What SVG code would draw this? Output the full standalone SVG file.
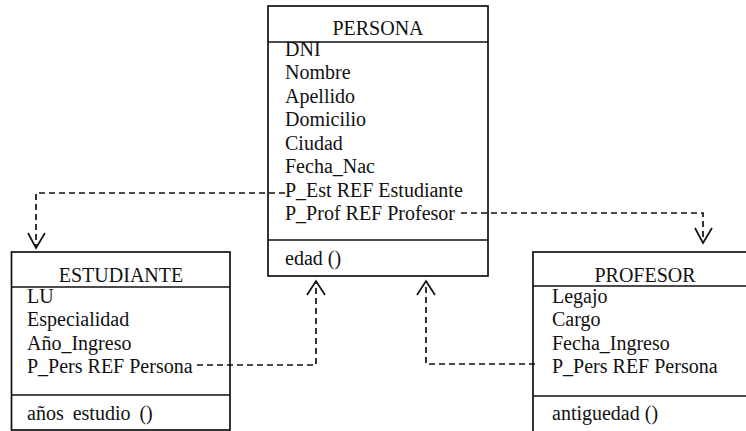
<svg xmlns="http://www.w3.org/2000/svg" width="746" height="431" viewBox="0 0 746 431">
  <style>
    .box { fill: #fff; stroke: #111; stroke-width: 1.7; }
    .sep { stroke: #111; stroke-width: 1.7; }
    .t { font-family: 'Liberation Serif', 'DejaVu Serif', serif; font-size: 20px; fill: #111; }
    .c { text-anchor: middle; }
    .dep { fill: none; stroke: #111; stroke-width: 1.7; stroke-dasharray: 6 4; }
    .head { fill: none; stroke: #111; stroke-width: 1.7; }
  </style>
  <rect width="746" height="431" fill="#fff"/>

  <!-- PERSONA class -->
  <g id="persona">
    <rect class="box" x="268" y="6" width="220" height="270"/>
    <line class="sep" x1="268" y1="42" x2="488" y2="42"/>
    <line class="sep" x1="268" y1="240" x2="488" y2="240"/>
    <text class="t c" x="378" y="35">PERSONA</text>
    <text class="t" x="285" y="55.5">DNI</text>
    <text class="t" x="285" y="79">Nombre</text>
    <text class="t" x="285" y="102.5">Apellido</text>
    <text class="t" x="285" y="126">Domicilio</text>
    <text class="t" x="285" y="149.5">Ciudad</text>
    <text class="t" x="285" y="173">Fecha_Nac</text>
    <text class="t" x="285" y="196.5">P_Est REF Estudiante</text>
    <text class="t" x="285" y="220">P_Prof REF Profesor</text>
    <text class="t" x="285" y="265">edad ()</text>
  </g>

  <!-- ESTUDIANTE class -->
  <g id="estudiante">
    <rect class="box" x="11.5" y="252" width="218.5" height="178"/>
    <line class="sep" x1="11.5" y1="287" x2="230" y2="287"/>
    <line class="sep" x1="11.5" y1="395" x2="230" y2="395"/>
    <text class="t c" x="121" y="282">ESTUDIANTE</text>
    <text class="t" x="27" y="303">LU</text>
    <text class="t" x="27" y="326">Especialidad</text>
    <text class="t" x="27" y="349.5">Año_Ingreso</text>
    <text class="t" x="27" y="373">P_Pers REF Persona</text>
    <text class="t" x="27" y="420" word-spacing="4">años estudio ()</text>
  </g>

  <!-- PROFESOR class (runs past the right edge) -->
  <g id="profesor">
    <rect class="box" x="533" y="252" width="225" height="190"/>
    <line class="sep" x1="533" y1="286" x2="758" y2="286"/>
    <line class="sep" x1="533" y1="396" x2="758" y2="396"/>
    <text class="t c" x="645" y="282">PROFESOR</text>
    <text class="t" x="552" y="303">Legajo</text>
    <text class="t" x="552" y="326">Cargo</text>
    <text class="t" x="552" y="349.5">Fecha_Ingreso</text>
    <text class="t" x="552" y="373">P_Pers REF Persona</text>
    <text class="t" x="552" y="420">antiguedad ()</text>
  </g>

  <!-- REF dependencies -->
  <g id="connectors">
    <!-- PERSONA.P_Est -> ESTUDIANTE -->
    <path class="dep" d="M285 193 H36 V246"/>
    <path class="head" d="M28 233 L36 248 L45 233"/>
    <!-- PERSONA.P_Prof -> PROFESOR -->
    <path class="dep" d="M461 213 H703 V241"/>
    <path class="head" d="M695 228 L703 243 L712 228"/>
    <!-- ESTUDIANTE.P_Pers -> PERSONA -->
    <path class="dep" d="M197 365 H316 V283"/>
    <path class="head" d="M307 295 L316 281 L325 295"/>
    <!-- PROFESOR.P_Pers -> PERSONA -->
    <path class="dep" d="M535 364 H426 V283"/>
    <path class="head" d="M417 295 L426 281 L435 295"/>
  </g>
</svg>
